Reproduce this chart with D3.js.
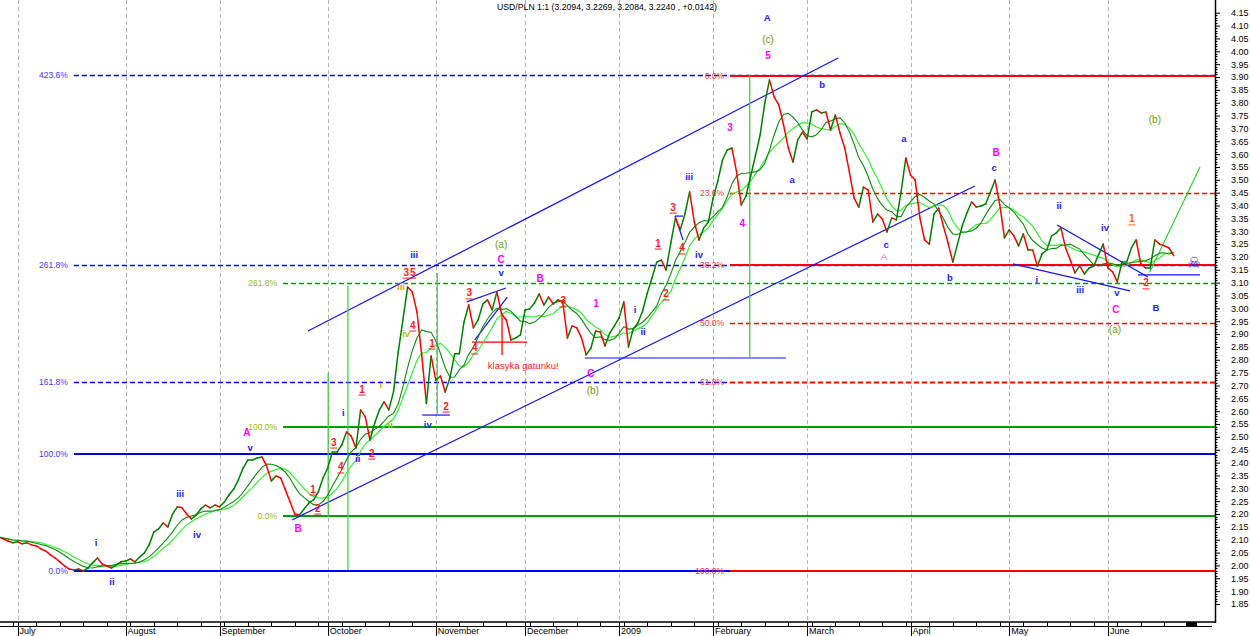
<!DOCTYPE html>
<html><head><meta charset="utf-8">
<script src="https://cdn.jsdelivr.net/npm/d3@7/dist/d3.min.js"></script>
<style>
body{margin:0;background:#fff}
svg{display:block}
text{font-family:"Liberation Sans",Arial,sans-serif}
</style>
</head><body>
<svg id="c" width="1250" height="636"></svg>
<script>
// ---------- DATA ----------
const title = "USD/PLN 1:1 (3.2094, 3.2269, 3.2084, 3.2240 , +0.0142)";
const closes = [
2.111,2.103,2.095,2.088,2.092,2.084,2.088,2.080,2.076,2.064,
2.056,2.041,2.029,2.014,1.998,1.986,1.982,1.986,1.979,1.990,
2.010,2.029,2.006,1.998,1.990,2.002,2.014,2.017,2.025,2.014,
2.033,2.049,2.080,2.130,2.142,2.165,2.150,2.200,2.228,2.224,
2.200,2.181,2.196,2.220,2.235,2.224,2.235,2.228,2.247,2.274,
2.297,2.333,2.379,2.410,2.410,2.418,2.422,2.387,2.329,2.348,
2.340,2.294,2.247,2.200,2.196,2.220,2.243,2.255,2.286,2.340,
2.379,2.441,2.441,2.469,2.519,2.503,2.457,2.605,2.578,2.488,
2.554,2.605,2.636,2.605,2.675,2.830,2.955,3.083,3.064,2.986,
2.819,2.630,2.815,2.721,2.737,2.675,2.729,2.823,2.823,2.947,
3.013,2.924,2.955,3.017,3.033,2.994,3.064,2.978,2.955,2.877,
2.885,2.897,2.994,2.998,3.021,3.056,3.013,3.044,3.017,3.033,
3.025,2.885,2.932,2.924,2.885,2.819,2.846,2.912,2.908,2.854,
2.904,2.932,2.963,3.025,2.850,2.920,2.943,2.990,3.060,3.118,
3.180,3.188,3.149,3.254,3.352,3.305,3.367,3.453,3.336,3.266,
3.313,3.336,3.429,3.495,3.577,3.616,3.624,3.530,3.402,3.437,
3.515,3.593,3.674,3.799,3.888,3.822,3.791,3.713,3.624,3.569,
3.655,3.686,3.659,3.764,3.772,3.760,3.764,3.694,3.752,3.682,
3.624,3.530,3.429,3.394,3.472,3.460,3.336,3.367,3.348,3.297,
3.352,3.344,3.453,3.585,3.519,3.499,3.352,3.266,3.250,3.367,
3.390,3.320,3.254,3.180,3.250,3.320,3.371,3.414,3.394,3.398,
3.406,3.453,3.499,3.402,3.274,3.305,3.282,3.243,3.289,3.227,
3.227,3.165,3.212,3.227,3.282,3.293,3.313,3.235,3.188,3.138,
3.165,3.134,3.157,3.165,3.208,3.250,3.157,3.142,3.103,3.180,
3.180,3.235,3.266,3.173,3.157,3.157,3.266,3.250,3.243,3.235,3.205
];
const maShort = 7, maLong = 10;
const months = ["July","August","September","October","November","December","2009","February","March","April","May","June"];
const monthStart = [4,27,47,70,93,112,132,152,172,194,215,236];
const priceTicks = [1.85,1.90,1.95,2.00,2.05,2.10,2.15,2.20,2.25,2.30,2.35,2.40,2.45,2.50,2.55,2.60,2.65,2.70,2.75,2.80,2.85,2.90,2.95,3.00,3.05,3.10,3.15,3.20,3.25,3.30,3.35,3.40,3.45,3.50,3.55,3.60,3.65,3.70,3.75,3.80,3.85,3.90,3.95,4.00,4.05,4.10,4.15];

// Fibonacci sets
const blueFibLow = 1.978, blueFibHigh = 2.4335, blueFibStart = 16;
const blueFibLevels = [0, 100, 161.8, 261.8, 423.6];
const greenFibLow = 2.192, greenFibHigh = 2.5385, greenFibStart = 60.5;
const greenFibLevels = [0, 100, 261.8];
const redFibLow = 1.978, redFibHigh = 3.905, redFibStart = 155.6;
const redFibLevels = [0, 23.6, 38.2, 50, 61.8, 100];

// trend lines: [bar1, price1, bar2, price2]
const blueLines = [
  [65.8,2.912,178.6,3.974],
  [62.4,2.177,207.7,3.476],
  [90.1,2.585,96.0,2.585],
  [99.6,3.025,107.9,3.079],
  [101.3,2.877,108.2,3.044],
  [124.7,2.807,167.5,2.807],
  [143.9,3.359,145.6,3.359],
  [143.9,3.359,145.6,3.266],
  [225.2,3.324,244.5,3.122],
  [215.8,3.173,240.7,3.068],
  [242.4,3.130,255.6,3.130]
];
const greenLines = [
  [70.1,2.749,70.1,2.188],
  [74.3,3.087,74.3,1.982],
  [93.3,3.138,93.3,2.585],
  [159.8,3.908,159.8,2.807],
  [244.9,3.141,255.6,3.550]
];
const redLines = [
  [100.7,2.869,112.4,2.869],
  [107.1,2.982,107.1,2.819]
];

// wave labels: [text, bar, price]
const blueLabels = [
  ["i",20.7,2.087],["ii",24.1,1.935],["iii",38.6,2.278],["iv",42.2,2.118],["v",53.5,2.457],
  ["i",73.3,2.593],["ii",76.4,2.414],["iii",88.4,3.208],["iv",91.3,2.546],["v",106.9,3.137],
  ["i",135.4,2.994],["ii",137.1,2.908],["iii",146.9,3.511],["iv",149.0,3.208],
  ["a",168.8,3.499],["b",175.2,3.869],["c",188.8,3.246],["a",192.6,3.659],["b",202.4,3.118],["c",211.8,3.546],
  ["i",220.9,3.110],["ii",225.6,3.398],["iii",230.1,3.071],["iv",235.4,3.312],["v",237.9,3.060],
  ["B",246.2,3.001],["A",163.5,4.129]
];
const magentaLabels = [
  ["A",52.8,2.519],["B",63.7,2.142],["C",106.9,3.192],["B",115.2,3.118],["1",127.1,3.017],["C",126.0,2.745],
  ["3",155.6,3.702],["4",158.2,3.332],["5",163.7,3.982],["B",212.2,3.608],["C",237.7,2.997]
];
const pinkLabels = [["A",188.4,3.200]];
const redLabels = [
  ["1",66.9,2.297],["2",67.9,2.223],["3",71.3,2.480],["4",72.8,2.383],["1",77.3,2.686],["2",79.4,2.437],
  ["3",86.7,3.141],["5",88.1,3.141],["4",88.1,2.935],["1",92.2,2.865],["2",95.2,2.620],["3",100.1,3.060],
  ["4",101.3,2.846],["3",120.1,3.029],["1",140.3,3.254],["2",142.0,3.056],["3",143.5,3.394],["4",145.4,3.235],
  ["2",244.1,3.099]
];
const orangeLabels = [["1",241.1,3.348]];
const goldLabels = [["i",81.3,2.702],["iii",85.6,3.083]];
const limeLabels = [["iv",86.7,2.900],["ii",83.3,2.546]];
const oliveLabels = [["(a)",106.9,3.250],["(b)",126.4,2.682],["(c)",163.7,4.044],["(a)",237.5,2.916],["(b)",246.0,3.733]];
const noteLabels = [["klasyka gatunku!",111.6,2.776]];
const markerPoint = [254.3,3.176];

// ---------- DRAW ----------
const svg = d3.select("#c");
const W = 1250, H = 636, axisX = 1215, axisY = 622;
const x = d3.scaleLinear().domain([0,250]).range([-1.3,1173.7]);
const y = d3.scaleLinear().domain([1.85,3.90]).range([604,77]);

svg.append("rect").attr("width",W).attr("height",H).attr("fill","#fff");
svg.append("defs").append("clipPath").attr("id","clip")
  .append("rect").attr("x",0).attr("y",0).attr("width",axisX).attr("height",axisY);
const plot = svg.append("g").attr("clip-path","url(#clip)");

// month gridlines
plot.selectAll(".grid").data(monthStart).join("line")
  .attr("x1",d=>Math.round(x(d))+0.5).attr("x2",d=>Math.round(x(d))+0.5).attr("y1",0).attr("y2",axisY)
  .attr("stroke","#b4b4b4").attr("stroke-dasharray","4,3").attr("stroke-width",1);

// fib levels
function drawFib(low, high, start, levels, up, lineColor, labelColor, isDashed){
  levels.forEach(l=>{
    const v = up ? low + (high-low)*l/100 : high - (high-low)*l/100;
    const dashed = isDashed(l);
    const yy = dashed ? Math.round(y(v))+0.5 : Math.round(y(v));
    plot.append("line").attr("x1",x(start)).attr("x2",axisX).attr("y1",yy).attr("y2",yy)
      .attr("stroke",lineColor).attr("stroke-width",dashed?1.4:2)
      .attr("stroke-dasharray",dashed?"5,3":null);
    plot.append("text").attr("x",x(start)-6).attr("y",yy).attr("dy","0.35em")
      .attr("text-anchor","end").attr("font-size","8.5px").attr("fill",labelColor)
      .text(l.toFixed(1)+"%");
  });
}
drawFib(blueFibLow, blueFibHigh, blueFibStart, blueFibLevels, true, "#0000ff", "#3a3aff", l=>l>100);
drawFib(greenFibLow, greenFibHigh, greenFibStart, greenFibLevels, true, "#00a000", "#9ab800", l=>l>100);
drawFib(redFibLow, redFibHigh, redFibStart, redFibLevels, false, "#ff0000", "#ff3030", l=>[23.6,50,61.8].includes(l));

// trend lines
function drawLines(arr, color, w){
  plot.selectAll(null).data(arr).join("line")
    .attr("x1",d=>x(d[0])).attr("y1",d=>y(d[1])).attr("x2",d=>x(d[2])).attr("y2",d=>y(d[3]))
    .attr("stroke",color).attr("stroke-width",w);
}
drawLines(blueLines,"#1010ff",1.2);
drawLines(greenLines,"#33cc33",1.2);
drawLines(redLines,"#ff0000",1.3);

// moving averages
function sma(n){ return closes.map((c,i)=>d3.mean(closes.slice(Math.max(0,i-n+1),i+1))); }
const line = d3.line().x((d,i)=>x(i)).y(d=>y(d));
plot.append("path").attr("d",line(sma(maLong))).attr("fill","none").attr("stroke","#33f033").attr("stroke-width",1.2);
plot.append("path").attr("d",line(sma(maShort))).attr("fill","none").attr("stroke","#0f8a0f").attr("stroke-width",1.1);

// price line, colored by direction
const segs = d3.range(closes.length-1);
plot.selectAll(".seg").data(segs).join("line")
  .attr("x1",i=>x(i)).attr("y1",i=>y(closes[i])).attr("x2",i=>x(i+1)).attr("y2",i=>y(closes[i+1]))
  .attr("stroke",i=>closes[i+1]>=closes[i]?"#008000":"#ff0000").attr("stroke-width",1.5)
  .attr("stroke-linecap","round");

// labels
function drawLabels(arr, color, size, bold, underline){
  arr.forEach(d=>{
    plot.append("text").attr("x",x(d[1])).attr("y",y(d[2])).attr("dy","0.35em")
      .attr("text-anchor","middle").attr("font-size",size).attr("fill",color)
      .attr("font-weight",bold?"bold":"normal").text(d[0]);
    if(underline){
      plot.append("line").attr("x1",x(d[1])-3.5).attr("x2",x(d[1])+3.5)
        .attr("y1",y(d[2])+6).attr("y2",y(d[2])+6).attr("stroke",color).attr("stroke-width",1);
    }
  });
}
drawLabels(blueLabels,"#1a1aff","9.5px",true,false);
drawLabels(magentaLabels,"#ff00ff","10px",true,false);
drawLabels(pinkLabels,"#ff66cc","9.5px",false,false);
drawLabels(redLabels,"#ff1a1a","10px",true,true);
drawLabels(orangeLabels,"#ff6600","10px",true,true);
drawLabels(goldLabels,"#d9a400","9.5px",true,false);
drawLabels(limeLabels,"#a6c400","9.5px",true,false);
drawLabels(oliveLabels,"#5f9f00","10px",false,false);
drawLabels(noteLabels,"#ff2020","9.5px",false,false);
plot.append("text").attr("x",x(markerPoint[0])).attr("y",y(markerPoint[1])).attr("dy","0.35em")
  .attr("text-anchor","middle").attr("font-size","15px").attr("fill","#1a1aff")
  .style("font-family","DejaVu Sans").text("\u2620");

// title
svg.append("text").attr("x",497).attr("y",10).attr("font-size","9px").attr("fill","#000")
  .attr("textLength",220).attr("lengthAdjust","spacingAndGlyphs").text(title);

// right axis
const yAxis = d3.axisRight(y).tickValues(priceTicks).tickSize(5).tickPadding(11).tickFormat(d3.format(".2f"));
const ga = svg.append("g").attr("transform",`translate(${axisX},0)`).call(yAxis);
ga.select(".domain").remove();
ga.selectAll("text").attr("font-size","9px").attr("fill","#000").style("font-family",'"Liberation Sans",Arial,sans-serif');
ga.selectAll("line").attr("stroke","#000");
const minor = d3.range(185,416).map(k=>k/100).filter(v=>Math.round(v*100)%5!==0);
svg.selectAll(".minor").data(minor).join("line")
  .attr("x1",axisX).attr("x2",axisX+2.5).attr("y1",d=>Math.round(y(d))+0.5).attr("y2",d=>Math.round(y(d))+0.5)
  .attr("stroke","#000").attr("stroke-width",1);
svg.append("line").attr("x1",axisX+0.5).attr("x2",axisX+0.5).attr("y1",0).attr("y2",axisY+1)
  .attr("stroke","#000").attr("stroke-width",1.5);

// bottom axis
svg.append("line").attr("x1",0).attr("x2",axisX).attr("y1",axisY).attr("y2",axisY).attr("stroke","#000").attr("stroke-width",1.6);
svg.append("line").attr("x1",0).attr("x2",axisX-3).attr("y1",axisY+4.5).attr("y2",axisY+4.5).attr("stroke","#000").attr("stroke-width",1);
const weekTicks = d3.range(3,251,5);
svg.selectAll(".wk").data(weekTicks).join("line")
  .attr("x1",d=>Math.round(x(d))+0.5).attr("x2",d=>Math.round(x(d))+0.5).attr("y1",axisY).attr("y2",axisY+4.5)
  .attr("stroke","#000").attr("stroke-width",1);
svg.selectAll(".msep").data(monthStart).join("line")
  .attr("x1",d=>Math.round(x(d))+0.5).attr("x2",d=>Math.round(x(d))+0.5).attr("y1",axisY).attr("y2",H)
  .attr("stroke","#000").attr("stroke-width",1);
svg.selectAll(".mlab").data(months).join("text")
  .attr("x",(d,i)=>x(monthStart[i])+2).attr("y",634).attr("font-size","9px").attr("fill","#000").text(d=>d);
svg.append("rect").attr("x",1186).attr("y",axisY).attr("width",11).attr("height",4.5).attr("fill","#000");
</script>
</body></html>
